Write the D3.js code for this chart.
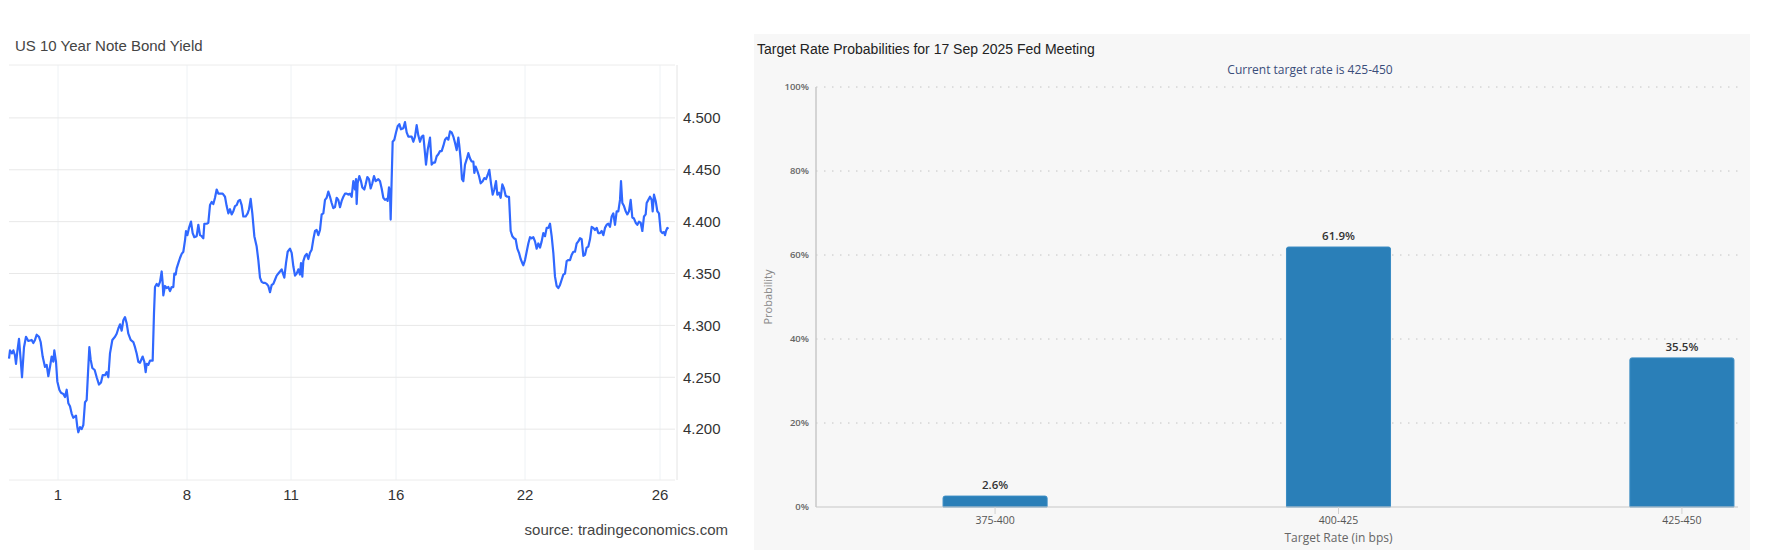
<!DOCTYPE html>
<html>
<head>
<meta charset="utf-8">
<script src="https://cdn.jsdelivr.net/npm/d3@7"></script>
<style>
  body { margin: 0; background: #fff; }
  svg { display: block; }
</style>
</head>
<body>
<svg id="chart" width="1784" height="556"></svg>
<script>
// ---- left: US 10Y yield, intraday samples [time step, yield %] ----
const yieldSeries = [
  [27,4.268],[30,4.276],[36,4.273],[40,4.276],[45,4.271],[48,4.263],[52,4.275],[57,4.287],[62,4.267],[66,4.250],
  [72,4.279],[78,4.289],[85,4.285],[95,4.286],[100,4.283],[105,4.286],[110,4.291],[117,4.289],[122,4.284],[128,4.270],
  [135,4.260],[140,4.262],[145,4.251],[150,4.260],[155,4.270],[160,4.265],[163,4.276],[168,4.265],[172,4.246],[178,4.238],
  [183,4.235],[190,4.234],[195,4.231],[200,4.238],[205,4.225],[210,4.222],[215,4.215],[220,4.211],[228,4.213],[232,4.202],
  [235,4.197],[240,4.202],[245,4.200],[250,4.204],[255,4.226],[260,4.228],[264,4.254],[268,4.279],[272,4.267],[277,4.259],
  [284,4.257],[290,4.250],[297,4.243],[303,4.245],[308,4.252],[315,4.252],[320,4.255],[325,4.250],[330,4.273],[337,4.286],
  [345,4.289],[350,4.292],[355,4.297],[360,4.301],[365,4.295],[370,4.305],[375,4.308],[380,4.302],[385,4.292],[392,4.286],
  [400,4.284],[405,4.279],[410,4.273],[415,4.265],[420,4.264],[428,4.270],[433,4.265],[437,4.255],[440,4.263],[445,4.262],
  [450,4.266],[458,4.266],[462,4.312],[465,4.337],[470,4.340],[475,4.338],[480,4.342],[485,4.352],[488,4.341],[490,4.329],
  [495,4.338],[500,4.336],[505,4.337],[510,4.333],[515,4.337],[520,4.337],[523,4.350],[527,4.349],[530,4.355],[535,4.360],
  [540,4.365],[545,4.369],[550,4.371],[555,4.382],[558,4.391],[562,4.387],[567,4.394],[573,4.400],[578,4.389],[583,4.385],
  [590,4.386],[595,4.397],[600,4.387],[605,4.386],[610,4.384],[613,4.398],[620,4.398],[625,4.399],[630,4.416],[635,4.419],
  [640,4.417],[645,4.423],[650,4.431],[655,4.427],[668,4.427],
  [675,4.424],[680,4.415],[685,4.408],[690,4.412],[695,4.407],[700,4.410],[705,4.415],[710,4.416],[715,4.420],[720,4.421],
  [725,4.416],[730,4.405],[737,4.405],[743,4.408],[747,4.412],[752,4.422],[757,4.408],[763,4.386],[770,4.376],[775,4.363],
  [780,4.346],[785,4.342],[790,4.341],[795,4.341],[800,4.340],[805,4.338],[810,4.332],[815,4.339],[820,4.340],[825,4.344],
  [830,4.348],[835,4.350],[840,4.352],[845,4.354],[850,4.349],[853,4.346],[858,4.360],[863,4.371],[870,4.374],[875,4.370],
  [880,4.357],[885,4.348],[890,4.350],[895,4.354],[900,4.349],[903,4.360],[907,4.347],[910,4.362],[915,4.367],[920,4.369],
  [925,4.364],[930,4.370],[935,4.373],[940,4.383],[945,4.391],[950,4.392],[955,4.387],[960,4.392],[965,4.407],[970,4.408],
  [975,4.421],[980,4.423],[985,4.429],[990,4.424],[995,4.418],[1000,4.413],[1005,4.414],[1010,4.423],[1015,4.421],[1020,4.414],
  [1025,4.420],[1030,4.424],[1035,4.427],[1040,4.427],[1045,4.426],[1050,4.427],[1055,4.424],[1060,4.439],[1065,4.431],[1068,4.441],
  [1070,4.417],[1073,4.437],[1078,4.444],[1083,4.439],[1087,4.433],[1093,4.431],[1097,4.436],[1102,4.443],[1107,4.441],[1112,4.432],
  [1117,4.437],[1122,4.444],[1127,4.439],[1135,4.441],[1140,4.439],[1145,4.432],[1150,4.423],[1155,4.421],[1160,4.422],[1163,4.420],
  [1167,4.433],[1170,4.428],[1172,4.402],[1175,4.441],[1178,4.477],[1183,4.479],[1188,4.486],[1193,4.492],[1198,4.494],[1203,4.489],
  [1210,4.490],[1215,4.496],[1220,4.486],[1225,4.482],[1230,4.482],[1235,4.482],[1240,4.477],[1245,4.482],[1250,4.493],[1255,4.483],
  [1260,4.477],[1265,4.482],[1270,4.483],[1275,4.466],[1278,4.455],[1283,4.469],[1290,4.481],[1295,4.455],[1300,4.457],[1305,4.457],
  [1310,4.463],[1315,4.465],[1320,4.468],[1325,4.468],[1330,4.473],[1335,4.479],[1340,4.481],[1345,4.479],
  [1350,4.487],[1355,4.486],[1360,4.482],[1365,4.476],[1370,4.469],[1375,4.481],[1378,4.473],[1382,4.460],[1386,4.441],[1390,4.439],
  [1395,4.455],[1400,4.460],[1405,4.466],[1410,4.461],[1415,4.458],[1420,4.458],[1423,4.447],[1427,4.453],[1432,4.449],[1437,4.444],
  [1442,4.437],[1448,4.439],[1453,4.442],[1458,4.441],[1463,4.445],[1468,4.450],[1473,4.437],[1478,4.426],[1483,4.431],[1488,4.439],
  [1492,4.426],[1497,4.428],[1502,4.423],[1507,4.436],[1512,4.432],[1517,4.425],[1522,4.424],[1527,4.424],[1532,4.391],[1537,4.386],
  [1542,4.384],[1547,4.383],[1552,4.374],[1557,4.370],[1562,4.364],[1567,4.360],[1570,4.358],[1575,4.363],[1580,4.371],[1585,4.379],
  [1590,4.385],[1595,4.384],[1600,4.385],[1605,4.381],[1610,4.374],[1615,4.379],[1620,4.375],[1625,4.381],[1630,4.389],[1635,4.386],
  [1640,4.394],[1645,4.394],[1650,4.398],[1655,4.386],[1660,4.370],[1665,4.347],[1670,4.338],[1675,4.336],[1680,4.339],[1685,4.344],
  [1690,4.349],[1695,4.350],[1700,4.362],[1705,4.363],[1710,4.363],[1715,4.368],[1720,4.371],[1725,4.371],[1730,4.379],[1735,4.381],
  [1740,4.384],[1745,4.383],[1750,4.367],[1755,4.368],[1760,4.375],[1765,4.376],[1770,4.383],[1775,4.395],[1780,4.394],[1785,4.392],
  [1790,4.394],[1795,4.389],[1800,4.389],[1805,4.391],[1810,4.387],[1815,4.394],[1820,4.397],[1825,4.398],[1830,4.395],[1835,4.405],
  [1840,4.408],[1845,4.397],[1850,4.410],[1855,4.410],[1860,4.421],[1863,4.439],[1867,4.418],[1872,4.415],[1877,4.410],[1882,4.407],
  [1887,4.410],[1892,4.421],[1897,4.404],[1902,4.403],[1907,4.399],[1912,4.397],[1917,4.400],[1922,4.399],[1927,4.391],[1932,4.405],
  [1937,4.407],[1940,4.418],[1945,4.421],[1950,4.424],[1955,4.421],[1958,4.410],[1962,4.426],[1967,4.420],[1972,4.410],[1977,4.408],
  [1982,4.391],[1987,4.389],[1992,4.390],[1995,4.387],[1998,4.391],[2002,4.394],[2005,4.393]
];
const dayTicks = [174, 561, 873, 1188, 1575, 1980];
const dayLabels = ['1', '8', '11', '16', '22', '26'];
const yieldTicks = [4.2, 4.25, 4.3, 4.35, 4.4, 4.45, 4.5];

// ---- right: Fed target rate probabilities ----
const rateBuckets = ['375-400', '400-425', '425-450'];
const probabilities = [2.6, 61.9, 35.5];
const probTicks = [0, 20, 40, 60, 80, 100];

const svg = d3.select('#chart');

// ================= left chart =================
const L = { left: 9, right: 675, top: 65, bottom: 480 };
const x = d3.scaleLinear().domain([0, 2025]).range([0, 675]);
const y = d3.scaleLinear().domain([4.151, 4.551]).range([L.bottom, L.top]);

const left = svg.append('g').attr('font-family', '"Liberation Sans", Arial, sans-serif');

left.append('text')
  .attr('x', 15).attr('y', 51)
  .attr('font-size', 15).attr('fill', '#444')
  .text('US 10 Year Note Bond Yield');

// vertical grid
left.selectAll('.vgrid').data(dayTicks).join('line')
  .attr('x1', d => x(d)).attr('x2', d => x(d))
  .attr('y1', L.top).attr('y2', L.bottom)
  .attr('stroke', '#eef2f5').attr('stroke-width', 1);

// horizontal grid
left.selectAll('.hgrid').data(yieldTicks).join('line')
  .attr('x1', L.left).attr('x2', L.right)
  .attr('y1', d => y(d)).attr('y2', d => y(d))
  .attr('stroke', '#e8e8e8').attr('stroke-width', 1);

// frame lines
left.append('line').attr('x1', L.left).attr('x2', L.right).attr('y1', L.top).attr('y2', L.top)
  .attr('stroke', '#ececec');
left.append('line').attr('x1', L.left).attr('x2', L.right).attr('y1', L.bottom).attr('y2', L.bottom)
  .attr('stroke', '#ececec');
left.append('line').attr('x1', 677).attr('x2', 677).attr('y1', L.top).attr('y2', L.bottom)
  .attr('stroke', '#e4e4e4');

// y labels on the right
left.selectAll('.ylab').data(yieldTicks).join('text')
  .attr('x', 683).attr('y', d => y(d)).attr('dy', '0.35em')
  .attr('font-size', 15).attr('fill', '#333')
  .text(d => d3.format('.3f')(d));

// x labels
left.selectAll('.xlab').data(dayTicks).join('text')
  .attr('x', d => x(d)).attr('y', 500)
  .attr('text-anchor', 'middle')
  .attr('font-size', 15).attr('fill', '#333')
  .text((d, i) => dayLabels[i]);

const line = d3.line()
  .x(d => x(d[0]))
  .y(d => y(d[1]));

left.append('path')
  .datum(yieldSeries)
  .attr('d', line)
  .attr('fill', 'none')
  .attr('stroke', '#3068ff')
  .attr('stroke-width', 2.2)
  .attr('stroke-linejoin', 'round');

left.append('text')
  .attr('x', 728).attr('y', 535)
  .attr('text-anchor', 'end')
  .attr('font-size', 15).attr('fill', '#444')
  .text('source: tradingeconomics.com');

// ================= right chart =================
const P = { left: 754, right: 1750, top: 34, bottom: 550 };
const R = { left: 816, top: 87, bottom: 507 };

const right = svg.append('g');
right.append('rect')
  .attr('x', P.left).attr('y', P.top)
  .attr('width', P.right - P.left).attr('height', P.bottom - P.top)
  .attr('fill', '#f7f7f7');

right.append('text')
  .attr('x', 757).attr('y', 54)
  .attr('font-family', 'Arial, "Liberation Sans", sans-serif')
  .attr('font-size', 14).attr('fill', '#222')
  .text('Target Rate Probabilities for 17 Sep 2025 Fed Meeting');

right.append('text')
  .attr('x', 1310).attr('y', 74)
  .attr('text-anchor', 'middle')
  .attr('font-family', '"Open Sans", sans-serif')
  .attr('font-size', 12).attr('fill', '#3a4d7a')
  .text('Current target rate is 425-450');

const xb = d3.scaleBand()
  .domain(rateBuckets)
  .range([R.left, 1861])
  .paddingInner(0.697)
  .paddingOuter(0.37);
const yp = d3.scaleLinear().domain([0, 100]).range([R.bottom, R.top]);

right.append('clipPath').attr('id', 'panelClip')
  .append('rect').attr('x', P.left).attr('y', P.top)
  .attr('width', P.right - P.left - 12).attr('height', P.bottom - P.top);

const plot = right.append('g').attr('clip-path', 'url(#panelClip)');

// dotted grid
plot.selectAll('.pgrid').data(probTicks.filter(d => d > 0)).join('line')
  .attr('x1', R.left).attr('x2', 1861)
  .attr('y1', d => yp(d)).attr('y2', d => yp(d))
  .attr('stroke', '#c4c4c4').attr('stroke-width', 1)
  .attr('stroke-dasharray', '1.5,6.5');

// bars
plot.selectAll('.bar').data(probabilities).join('path')
  .attr('d', (d, i) => {
    const x0 = xb(rateBuckets[i]), w = xb.bandwidth();
    const y0 = yp(d), y1 = yp(0), r = 2;
    return `M${x0},${y1}V${y0 + r}Q${x0},${y0} ${x0 + r},${y0}H${x0 + w - r}Q${x0 + w},${y0} ${x0 + w},${y0 + r}V${y1}Z`;
  })
  .attr('fill', '#2a7fb8')
  .attr('stroke', '#3a8cc4').attr('stroke-width', 1);

// x axis line + ticks
plot.append('line').attr('x1', R.left).attr('x2', 1861).attr('y1', R.bottom).attr('y2', R.bottom)
  .attr('stroke', '#c8c8c8').attr('stroke-width', 1.2);
plot.selectAll('.xtick').data(rateBuckets).join('line')
  .attr('x1', d => xb(d) + xb.bandwidth() / 2).attr('x2', d => xb(d) + xb.bandwidth() / 2)
  .attr('y1', R.bottom).attr('y2', R.bottom + 7)
  .attr('stroke', '#d0d0d0');

// data labels
plot.selectAll('.dlab').data(probabilities).join('text')
  .attr('x', (d, i) => xb(rateBuckets[i]) + xb.bandwidth() / 2)
  .attr('y', d => yp(d) - 7)
  .attr('text-anchor', 'middle')
  .attr('font-family', '"Open Sans", sans-serif')
  .attr('font-size', 11.5).attr('font-weight', 600).attr('fill', '#333')
  .text(d => d.toFixed(1) + '%');

// category labels
plot.selectAll('.clab').data(rateBuckets).join('text')
  .attr('x', d => xb(d) + xb.bandwidth() / 2)
  .attr('y', 524)
  .attr('text-anchor', 'middle')
  .attr('font-family', '"Open Sans", sans-serif')
  .attr('font-size', 10.5).attr('fill', '#555')
  .text(d => d);

// y axis line
right.append('line').attr('x1', R.left).attr('x2', R.left).attr('y1', R.top).attr('y2', R.bottom)
  .attr('stroke', '#c8c8c8').attr('stroke-width', 1.5);

right.selectAll('.plab').data(probTicks).join('text')
  .attr('x', 809).attr('y', d => yp(d)).attr('dy', '0.35em')
  .attr('text-anchor', 'end')
  .attr('font-family', '"Open Sans", sans-serif')
  .attr('font-size', 9.5).attr('font-weight', 600).attr('fill', '#666')
  .text(d => d + '%');

right.append('text')
  .attr('transform', 'translate(772,297) rotate(-90)')
  .attr('text-anchor', 'middle')
  .attr('font-family', '"Open Sans", sans-serif')
  .attr('font-size', 11).attr('fill', '#888')
  .text('Probability');

right.append('text')
  .attr('x', xb('400-425') + xb.bandwidth() / 2).attr('y', 542)
  .attr('text-anchor', 'middle')
  .attr('font-family', '"Open Sans", sans-serif')
  .attr('font-size', 12).attr('fill', '#666')
  .text('Target Rate (in bps)');
</script>
</body>
</html>
